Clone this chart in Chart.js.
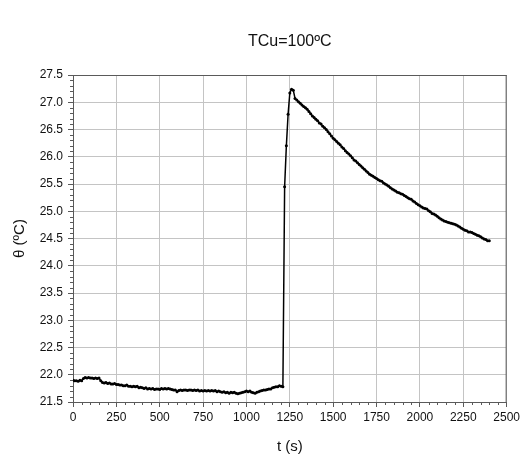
<!DOCTYPE html>
<html>
<head>
<meta charset="utf-8">
<script src="https://cdn.jsdelivr.net/npm/chart.js@4"></script>
<style>
    html, body { margin: 0; padding: 0; background: #fff; }
</style>
</head>
<body>
<canvas id="chart" width="523" height="459"></canvas>
<script>
// sample times (s)
const times = [
    0, 10, 20, 30, 40, 50, 60, 70, 80, 90, 100, 110, 120, 130, 140, 150, 160, 170, 180, 190,
    200, 210, 220, 230, 240, 250, 260, 270, 280, 290, 300, 310, 320, 330, 340, 350, 360, 370, 380, 390,
    400, 410, 420, 430, 440, 450, 460, 470, 480, 490, 500, 510, 520, 530, 540, 550, 560, 570, 580, 590,
    600, 610, 620, 630, 640, 650, 660, 670, 680, 690, 700, 710, 720, 730, 740, 750, 760, 770, 780, 790,
    800, 810, 820, 830, 840, 850, 860, 870, 880, 890, 900, 910, 920, 930, 940, 950, 960, 970, 980, 990,
    1000, 1010, 1020, 1030, 1040, 1050, 1060, 1070, 1080, 1090, 1100, 1110, 1120, 1130, 1140, 1150, 1160, 1170, 1180, 1190,
    1200, 1210, 1220, 1230, 1240, 1250, 1260, 1270, 1280, 1290, 1300, 1310, 1320, 1330, 1340, 1350, 1360, 1370, 1380, 1390,
    1400, 1410, 1420, 1430, 1440, 1450, 1460, 1470, 1480, 1490, 1500, 1510, 1520, 1530, 1540, 1550, 1560, 1570, 1580, 1590,
    1600, 1610, 1620, 1630, 1640, 1650, 1660, 1670, 1680, 1690, 1700, 1710, 1720, 1730, 1740, 1750, 1760, 1770, 1780, 1790,
    1800, 1810, 1820, 1830, 1840, 1850, 1860, 1870, 1880, 1890, 1900, 1910, 1920, 1930, 1940, 1950, 1960, 1970, 1980, 1990,
    2000, 2010, 2020, 2030, 2040, 2050, 2060, 2070, 2080, 2090, 2100, 2110, 2120, 2130, 2140, 2150, 2160, 2170, 2180, 2190,
    2200, 2210, 2220, 2230, 2240, 2250, 2260, 2270, 2280, 2290, 2300, 2310, 2320, 2330, 2340, 2350, 2360, 2370, 2380, 2390,
    2400
];

// temperature theta (ºC)
const temps = [
    21.90, 21.89, 21.89, 21.88, 21.90, 21.89, 21.93, 21.95, 21.94, 21.95, 21.94, 21.94, 21.93, 21.94, 21.93, 21.94, 21.89, 21.86, 21.85, 21.86,
    21.84, 21.85, 21.83, 21.83, 21.84, 21.82, 21.82, 21.81, 21.81, 21.80, 21.80, 21.81, 21.79, 21.79, 21.78, 21.79, 21.78, 21.79, 21.76, 21.77,
    21.76, 21.75, 21.76, 21.74, 21.75, 21.74, 21.75, 21.73, 21.74, 21.74, 21.73, 21.75, 21.74, 21.75, 21.74, 21.75, 21.74, 21.73, 21.72, 21.72,
    21.69, 21.71, 21.72, 21.71, 21.72, 21.72, 21.71, 21.72, 21.72, 21.71, 21.72, 21.71, 21.72, 21.70, 21.71, 21.70, 21.71, 21.70, 21.71, 21.70,
    21.71, 21.70, 21.71, 21.69, 21.70, 21.69, 21.68, 21.69, 21.67, 21.68, 21.66, 21.68, 21.67, 21.68, 21.66, 21.65, 21.66, 21.67, 21.68, 21.69,
    21.70, 21.69, 21.70, 21.68, 21.67, 21.66, 21.68, 21.69, 21.70, 21.71, 21.72, 21.72, 21.73, 21.74, 21.74, 21.76, 21.77, 21.78, 21.78, 21.80,
    21.79, 21.78, 25.45, 26.20, 26.78, 27.17, 27.24, 27.22, 27.07, 27.04, 27.01, 26.98, 26.95, 26.92, 26.90, 26.87, 26.83, 26.79, 26.75, 26.72,
    26.69, 26.66, 26.62, 26.60, 26.56, 26.53, 26.50, 26.46, 26.42, 26.38, 26.34, 26.31, 26.28, 26.25, 26.22, 26.18, 26.15, 26.11, 26.08, 26.05,
    26.02, 25.98, 25.94, 25.92, 25.89, 25.86, 25.83, 25.80, 25.77, 25.74, 25.71, 25.68, 25.66, 25.64, 25.62, 25.60, 25.58, 25.56, 25.55, 25.52,
    25.50, 25.48, 25.46, 25.43, 25.41, 25.39, 25.37, 25.35, 25.34, 25.32, 25.31, 25.29, 25.27, 25.25, 25.23, 25.22, 25.19, 25.17, 25.14, 25.12,
    25.10, 25.08, 25.06, 25.05, 25.04, 25.01, 24.99, 24.96, 24.95, 24.93, 24.91, 24.88, 24.86, 24.84, 24.82, 24.81, 24.80, 24.79, 24.78, 24.77,
    24.76, 24.75, 24.73, 24.71, 24.69, 24.67, 24.65, 24.64, 24.62, 24.62, 24.61, 24.59, 24.58, 24.56, 24.55, 24.53, 24.51, 24.49, 24.48, 24.46,
    24.46
];

const chartTitle = "TCu=100ºC";
const xTitle = "t (s)";
const yTitle = "θ (ºC)";

const FONT = "'Liberation Sans', Arial, sans-serif";
const AXIS = "#5a5a5a";
const GRID = "#c4c4c4";

// minor ticks, top/right frame and the text labels
const extras = {
    id: "extras",
    afterDraw(chart) {
        const { ctx, chartArea: a, scales: { x, y } } = chart;
        ctx.save();
        ctx.strokeStyle = AXIS;
        ctx.lineWidth = 1;
        ctx.beginPath();
        ctx.moveTo(a.left, a.top + 0.5); ctx.lineTo(a.right, a.top + 0.5);
        ctx.moveTo(a.right - 0.5, a.top); ctx.lineTo(a.right - 0.5, a.bottom);
        for (let v = 50; v < 2500; v += 50) {
            if (v % 250 === 0) continue;
            const px = Math.round(x.getPixelForValue(v)) + 0.5;
            ctx.moveTo(px, a.bottom); ctx.lineTo(px, a.bottom + 3);
        }
        for (let i = 1; i < 60; i++) {
            if (i % 5 === 0) continue;
            const py = Math.round(y.getPixelForValue(21.5 + i * 0.1)) + 0.5;
            ctx.moveTo(a.left - 3, py); ctx.lineTo(a.left, py);
        }
        ctx.stroke();

        ctx.fillStyle = "#111";
        ctx.textAlign = "center";
        ctx.textBaseline = "middle";
        const cx = (a.left + a.right) / 2;
        ctx.font = "16px " + FONT;
        ctx.fillText(chartTitle, cx, 42);
        ctx.font = "15px " + FONT;
        ctx.fillText(xTitle, cx, 447);
        ctx.translate(20, (a.top + a.bottom) / 2);
        ctx.rotate(-Math.PI / 2);
        ctx.fillText(yTitle, 0, 0);
        ctx.restore();
    }
};

new Chart(document.getElementById("chart"), {
    type: "line",
    data: {
        datasets: [{
            data: times.map((t, i) => ({ x: t, y: temps[i] })),
            borderColor: "#000", backgroundColor: "#000",
            borderWidth: 1.5, pointRadius: 1.5, pointBorderWidth: 0,
            pointBackgroundColor: "#000", tension: 0
        }]
    },
    options: {
        responsive: false, animation: false,
        layout: { padding: { top: 75, right: 14, left: 0, bottom: 0 } },
        plugins: { legend: { display: false }, tooltip: { enabled: false } },
        scales: {
            x: {
                type: "linear", min: 0, max: 2500,
                ticks: { stepSize: 250, padding: 3, color: "#111", maxRotation: 0, autoSkip: false, callback: v => String(v), font: { family: FONT, size: 12 } },
                grid: { color: GRID, tickLength: 5, tickColor: AXIS },
                border: { color: AXIS },
                afterFit: s => { s.height = 57; }
            },
            y: {
                min: 21.5, max: 27.5,
                ticks: { stepSize: 0.5, padding: 5, color: "#111", callback: v => v.toFixed(1), font: { family: FONT, size: 12 } },
                grid: { color: GRID, tickLength: 5, tickColor: AXIS },
                border: { color: AXIS },
                afterFit: s => { s.width = 73; }
            }
        }
    },
    plugins: [extras]
});
</script>
</body>
</html>
